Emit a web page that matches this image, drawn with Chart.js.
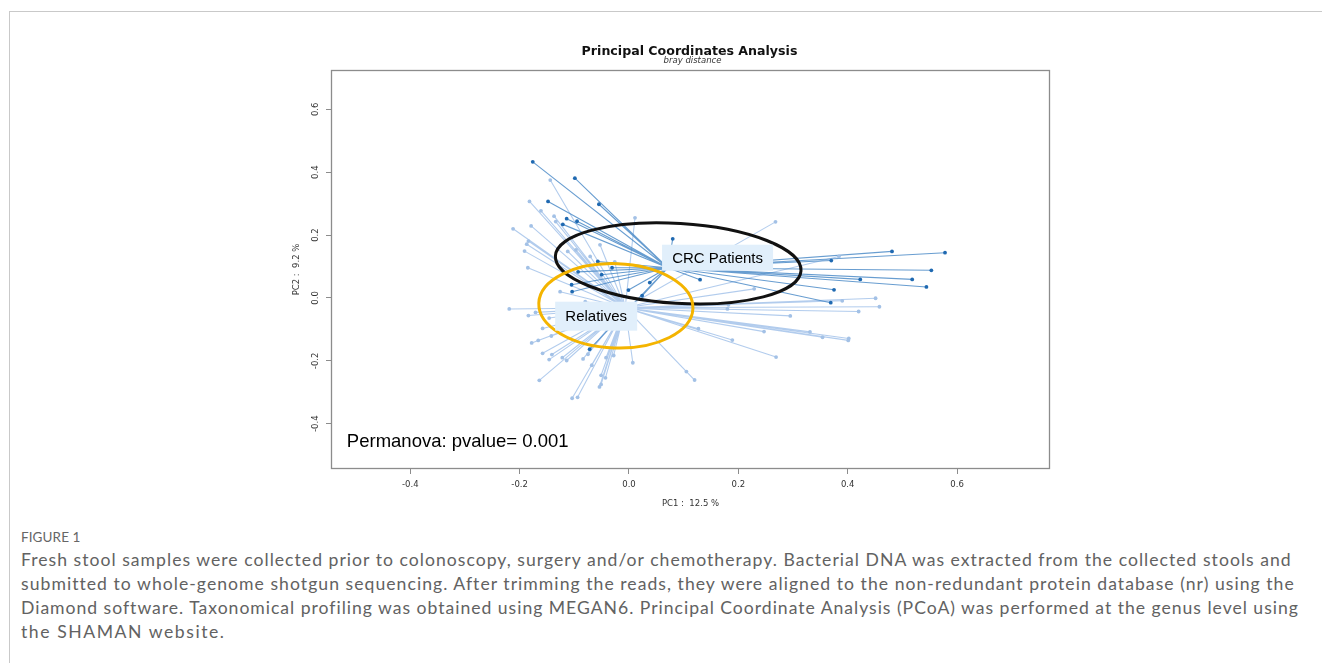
<!DOCTYPE html>
<html>
<head>
<meta charset="utf-8">
<script src="https://cdn.jsdelivr.net/npm/chart.js@4.4.1/dist/chart.umd.min.js"></script>
<style>
  html, body { margin: 0; padding: 0; background: #fff; }
  body { width: 1322px; height: 663px; position: relative; overflow: hidden; }
  #frame { position: absolute; left: 9px; top: 11px; width: 1313px; height: 660px;
           border-top: 1px solid #c9c9c9; border-left: 1px solid #c9c9c9; }
  #chartBox { position: absolute; left: 0; top: 0; width: 1322px; height: 520px; }
  .fig { position: absolute; left: 21px; top: 529px; font: 13.5px Lato, "Open Sans", sans-serif;
         color: #666; line-height: 16px; letter-spacing: 0.1px; }
  .cap { position: absolute; left: 21px; font: 17.6px Lato, "Open Sans", sans-serif; color: #626262;
         line-height: 24px; white-space: nowrap; }
</style>
</head>
<body>
<div id="frame"></div>
<div id="chartBox"><canvas id="pcoa" width="1322" height="520"></canvas></div>
<div class="fig">FIGURE 1</div>
<div class="cap" data-w="1270" style="top:548px">Fresh stool samples were collected prior to colonoscopy, surgery and/or chemotherapy. Bacterial DNA was extracted from the collected stools and</div>
<div class="cap" data-w="1272" style="top:572px">submitted to whole-genome shotgun sequencing. After trimming the reads, they were aligned to the non-redundant protein database (nr) using the</div>
<div class="cap" data-w="1276" style="top:596px">Diamond software. Taxonomical profiling was obtained using MEGAN6. Principal Coordinate Analysis (PCoA) was performed at the genus level using</div>
<div class="cap" data-w="203" style="top:620px">the SHAMAN website.</div>
<script>
// group centroids (PC1, PC2)
const CRC_CENTER = [0.071, 0.096];
const REL_CENTER = [-0.007, -0.031];

// CRC patients
const crcX = [-0.176, -0.099, -0.148, -0.055, -0.114, -0.095, -0.121, 0.080, 0.481, 0.578,
              0.370, 0.553, 0.423, 0.518, 0.544, 0.375, 0.369, -0.050, -0.105, -0.104,
              -0.001, 0.024, -0.072, -0.093, -0.031, 0.038, 0.130, -0.057];
const crcY = [0.433, 0.381, 0.307, 0.298, 0.252, 0.244, 0.234, 0.188, 0.148, 0.144,
              0.119, 0.088, 0.059, 0.059, 0.035, 0.026, -0.015, 0.074, 0.042, 0.020,
              0.025, 0.007, -0.163, 0.083, 0.096, 0.049, 0.058, 0.116];

// Relatives
const relX = [-0.144, -0.182, -0.161, -0.137, -0.134, -0.212, -0.179, 0.011, -0.184, -0.187,
              -0.191, -0.185, -0.097, 0.268, 0.384, 0.229, 0.390, 0.451, 0.458, 0.420,
              0.295, 0.180, 0.182, 0.127, 0.189, 0.247, 0.331, 0.354, 0.402, 0.401,
              0.269, -0.219, -0.184, -0.171, -0.158, -0.146, -0.166, -0.178, -0.142, -0.158,
              -0.141, -0.146, -0.122, -0.114, -0.084, -0.075, -0.068, -0.051, -0.043, -0.054,
              -0.051, -0.042, -0.028, 0.007, -0.164, -0.104, -0.094, 0.105, 0.120, -0.071,
              -0.080, -0.112, -0.053, -0.026, -0.126];
const relY = [0.375, 0.307, 0.277, 0.260, 0.243, 0.220, 0.229, 0.255, 0.181, 0.171,
              0.149, 0.096, 0.153, 0.242, 0.132, 0.029, -0.009, -0.001, -0.028, -0.043,
              -0.057, -0.035, -0.022, -0.098, -0.134, -0.107, -0.108, -0.125, -0.129, -0.135,
              -0.188, -0.035, -0.056, -0.046, -0.097, -0.064, -0.135, -0.143, -0.121, -0.176,
              -0.180, -0.196, -0.190, -0.199, -0.194, -0.179, -0.214, -0.246, -0.254, -0.283,
              -0.275, -0.190, -0.183, -0.206, -0.262, -0.319, -0.316, -0.234, -0.261, 0.132,
              -0.012, 0.148, 0.169, 0.115, 0.020];

const xTicks = [-0.4, -0.2, 0.0, 0.2, 0.4, 0.6];
const yTicks = [-0.4, -0.2, 0.0, 0.2, 0.4, 0.6];

const titleText = 'Principal Coordinates Analysis';
const subtitleText = 'bray distance';
const xTitle = 'PC1 :  12.5 %';
const yTitle = 'PC2 :  9.2 %';
const statText = 'Permanova: pvalue= 0.001';

// hand-drawn annotations (ellipses and labels), anchored in data units
const rings = [
  { cx: 0.090, cy: 0.110, rx: 0.225, ry: 0.127, rot: 3.5, color: '#111', width: 3 },
  { cx: -0.024, cy: -0.025, rx: 0.141, ry: 0.134, rot: 2, color: '#f4b400', width: 3 }
];
const tags = [
  { text: 'CRC Patients', x: 0.162, y: 0.128, w: 111, h: 26 },
  { text: 'Relatives', x: -0.060, y: -0.058, w: 82, h: 29 }
];

const toPts = (xs, ys) => xs.map((x, i) => ({ x: x, y: ys[i] }));
function spokes(center, xs, ys) {
  const out = [];
  xs.forEach((x, i) => {
    out.push({ x: center[0], y: center[1] }, { x: x, y: ys[i] }, { x: null, y: null });
  });
  return out;
}

const overlay = {
  id: 'overlay',
  afterDatasetsDraw(chart) {
    const ctx = chart.ctx, sx = chart.scales.x, sy = chart.scales.y;
    const pxX = sx.getPixelForValue(1) - sx.getPixelForValue(0);
    const pxY = sy.getPixelForValue(0) - sy.getPixelForValue(1);
    ctx.save();
    rings.forEach(r => {
      ctx.beginPath();
      ctx.ellipse(sx.getPixelForValue(r.cx), sy.getPixelForValue(r.cy), r.rx * pxX, r.ry * pxY,
                  r.rot * Math.PI / 180, 0, Math.PI * 2);
      ctx.strokeStyle = r.color;
      ctx.lineWidth = r.width;
      ctx.stroke();
    });
    ctx.font = '15px "Liberation Sans", Arial, sans-serif';
    ctx.textAlign = 'center';
    ctx.textBaseline = 'middle';
    tags.forEach(t => {
      const cx = sx.getPixelForValue(t.x), cy = sy.getPixelForValue(t.y);
      ctx.fillStyle = '#e1effb';
      ctx.fillRect(cx - t.w / 2, cy - t.h / 2, t.w, t.h);
      ctx.fillStyle = '#000';
      ctx.fillText(t.text, cx, cy + 1);
    });
    ctx.font = '18.5px "Liberation Sans", Arial, sans-serif';
    ctx.textAlign = 'left';
    ctx.textBaseline = 'alphabetic';
    ctx.fillText(statText, sx.getPixelForValue(-0.516), sy.getPixelForValue(-0.473));
    ctx.restore();
  },
  afterDraw(chart) {
    const ctx = chart.ctx, a = chart.chartArea, sy = chart.scales.y;
    ctx.save();
    ctx.strokeStyle = '#8c8c8c';
    ctx.lineWidth = 1.3;
    ctx.strokeRect(a.left + 0.5, a.top + 0.5, a.right - a.left - 1, a.bottom - a.top - 1);
    // rotated y tick labels, as R draws them
    ctx.fillStyle = '#333';
    ctx.font = '8.5px "DejaVu Sans", sans-serif';
    ctx.textAlign = 'center';
    ctx.textBaseline = 'middle';
    sy.ticks.forEach(t => {
      ctx.save();
      ctx.translate(a.left - 15, sy.getPixelForValue(t.value));
      ctx.rotate(-Math.PI / 2);
      ctx.fillText(t.value.toFixed(1), 0, 0);
      ctx.restore();
    });
    const mid = (a.left + a.right) / 2;
    ctx.fillStyle = '#111';
    ctx.font = 'bold 12.6px "DejaVu Sans", sans-serif';
    ctx.textBaseline = 'alphabetic';
    ctx.fillText(titleText, mid - 1, 55);
    ctx.fillStyle = '#333';
    ctx.font = 'italic 8.5px "DejaVu Sans", sans-serif';
    ctx.fillText(subtitleText, mid + 2, 63);
    ctx.restore();
  }
};

const tickGrid = { display: true, drawOnChartArea: false, drawTicks: true, tickLength: 5, color: '#8c8c8c' };

new Chart(document.getElementById('pcoa'), {
  type: 'scatter',
  data: {
    datasets: [
      { label: 'CRC Patients', data: toPts(crcX, crcY), order: 0,
        pointRadius: 1.9, pointBackgroundColor: '#1f69b1', pointBorderWidth: 0 },
      { label: 'Relatives', data: toPts(relX, relY), order: 1,
        pointRadius: 1.9, pointBackgroundColor: '#a3c1e6', pointBorderWidth: 0 },
      { type: 'line', label: 'crc spokes', data: spokes(CRC_CENTER, crcX, crcY), order: 2,
        borderColor: 'rgba(78,140,200,0.85)', borderWidth: 1.1, pointRadius: 0, spanGaps: false, fill: false },
      { type: 'line', label: 'rel spokes', data: spokes(REL_CENTER, relX, relY), order: 3,
        borderColor: 'rgba(165,195,234,0.85)', borderWidth: 1.1, pointRadius: 0, spanGaps: false, fill: false }
    ]
  },
  options: {
    responsive: false,
    animation: false,
    events: [],
    layout: { padding: { left: 286, right: 272, top: 70, bottom: 6 } },
    plugins: { legend: { display: false }, tooltip: { enabled: false }, title: { display: false } },
    scales: {
      x: {
        type: 'linear', min: -0.545, max: 0.770,
        afterBuildTicks: s => { s.ticks = xTicks.map(v => ({ value: v })); },
        afterFit: s => { s.height = 45; },
        grid: tickGrid,
        border: { display: false },
        ticks: { color: '#333', padding: 6, font: { family: 'DejaVu Sans', size: 8.5 },
                 callback: v => v.toFixed(1) },
        title: { display: true, text: xTitle, color: '#333', padding: { top: 0, bottom: 5 },
                 font: { family: 'DejaVu Sans', size: 8.5 } }
      },
      y: {
        type: 'linear', min: -0.544, max: 0.725,
        afterBuildTicks: s => { s.ticks = yTicks.map(v => ({ value: v })); },
        afterFit: s => { s.width = 45; },
        grid: tickGrid,
        border: { display: false },
        ticks: { display: false },
        title: { display: true, text: yTitle, color: '#333', padding: { top: 6, bottom: 0 },
                 font: { family: 'DejaVu Sans', size: 8.5 } }
      }
    }
  },
  plugins: [overlay]
});

// stretch caption lines to the widths they have in the figure
document.querySelectorAll('.cap[data-w]').forEach(el => {
  const target = +el.dataset.w;
  const n = el.textContent.length - 1;
  const diff = target - el.scrollWidth;
  el.style.letterSpacing = (diff / n) + 'px';
});
</script>
</body>
</html>
